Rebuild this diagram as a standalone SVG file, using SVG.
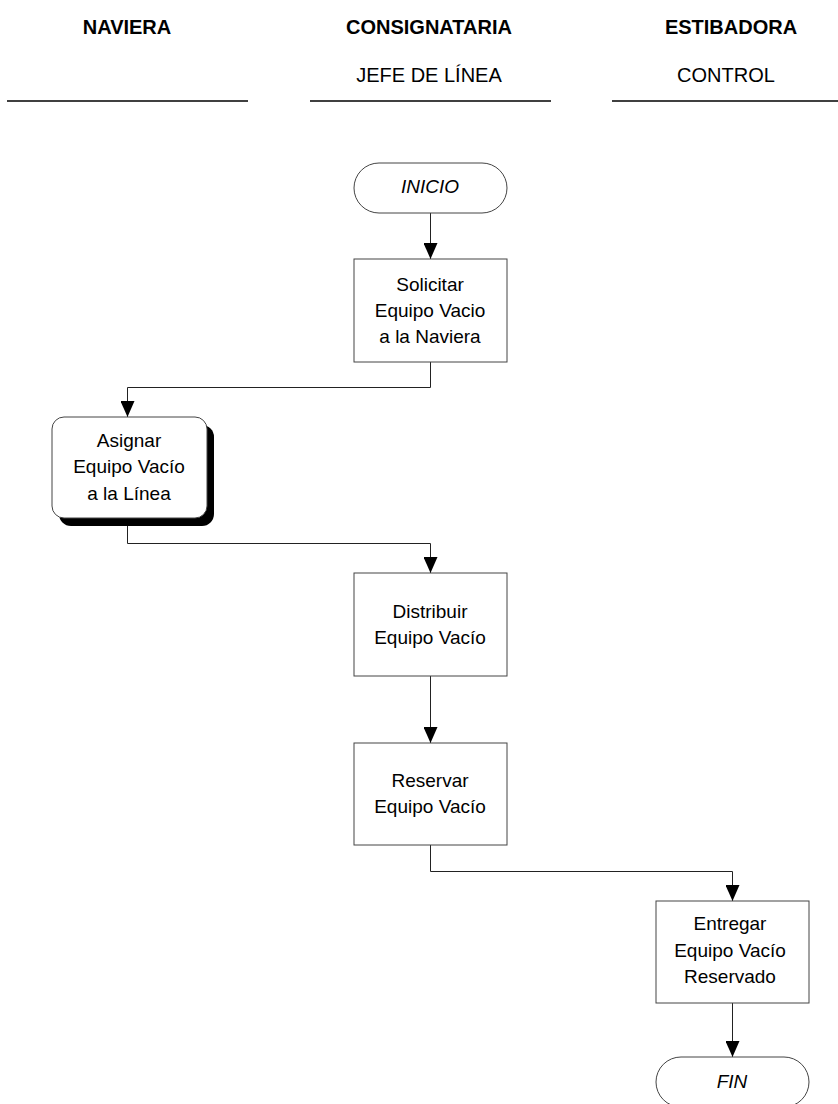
<svg xmlns="http://www.w3.org/2000/svg" width="838" height="1104" viewBox="0 0 838 1104">
  <style>
    .hdr { font-family: "Liberation Sans", Arial, sans-serif; font-size: 20px; fill: #000; text-anchor: middle; }
    .bold { font-weight: bold; }
    .lane { stroke: #000; stroke-width: 1.5; }
    .box { fill: #fff; stroke: #444; stroke-width: 1; }
    .lbl { font-family: "Liberation Sans", Arial, sans-serif; font-size: 19px; fill: #000; text-anchor: middle; }
    .it { font-style: italic; }
    .conn { fill: none; stroke: #222; stroke-width: 1; }
  </style>
  <defs>
    <marker id="arrow" markerUnits="userSpaceOnUse" markerWidth="16" markerHeight="14" viewBox="0 0 16 14" refX="16" refY="7" orient="auto">
      <path d="M0,0 L16,7 L0,14 z" fill="#000"/>
    </marker>
  </defs>
  <rect width="838" height="1104" fill="#fff"/>

  <!-- swimlane headers -->
  <g id="lanes">
    <text class="hdr bold" x="127" y="34">NAVIERA</text>
    <text class="hdr bold" x="429" y="34">CONSIGNATARIA</text>
    <text class="hdr bold" x="731" y="34">ESTIBADORA</text>
    <text class="hdr" x="429" y="82">JEFE DE LÍNEA</text>
    <text class="hdr" x="726" y="82">CONTROL</text>
    <line class="lane" x1="7" y1="101" x2="248" y2="101"/>
    <line class="lane" x1="310" y1="101" x2="551" y2="101"/>
    <line class="lane" x1="612" y1="101" x2="838" y2="101"/>
  </g>

  <!-- connectors -->
  <g id="connectors">
    <path class="conn" d="M430.5,213 V259" marker-end="url(#arrow)"/>
    <path class="conn" d="M430.5,362 V387.5 H127.5 V417" marker-end="url(#arrow)"/>
    <path class="conn" d="M127.5,526 V543.5 H430.5 V573" marker-end="url(#arrow)"/>
    <path class="conn" d="M430.5,676 V743" marker-end="url(#arrow)"/>
    <path class="conn" d="M430.5,845 V871.5 H732.5 V901" marker-end="url(#arrow)"/>
    <path class="conn" d="M732.5,1003 V1057" marker-end="url(#arrow)"/>
  </g>

  <g id="inicio">
    <rect class="box" x="354" y="163" width="153" height="50" rx="25" ry="25"/>
    <text class="lbl it" x="430" y="193">INICIO</text>
  </g>

  <g id="solicitar">
    <rect class="box" x="354" y="259" width="153" height="103"/>
    <text class="lbl" x="430" y="291">Solicitar</text>
    <text class="lbl" x="430" y="317">Equipo Vacio</text>
    <text class="lbl" x="430" y="343">a la Naviera</text>
  </g>

  <g id="asignar">
    <rect x="59" y="425" width="155" height="101" rx="12" ry="12" fill="#000"/>
    <rect class="box" x="52" y="417" width="155" height="101" rx="12" ry="12"/>
    <text class="lbl" x="129" y="447">Asignar</text>
    <text class="lbl" x="129" y="473">Equipo Vacío</text>
    <text class="lbl" x="129" y="500">a la Línea</text>
  </g>

  <g id="distribuir">
    <rect class="box" x="354" y="573" width="153" height="103"/>
    <text class="lbl" x="430" y="618">Distribuir</text>
    <text class="lbl" x="430" y="644">Equipo Vacío</text>
  </g>

  <g id="reservar">
    <rect class="box" x="354" y="743" width="153" height="102"/>
    <text class="lbl" x="430" y="787">Reservar</text>
    <text class="lbl" x="430" y="813">Equipo Vacío</text>
  </g>

  <g id="entregar">
    <rect class="box" x="656" y="901" width="153" height="102"/>
    <text class="lbl" x="730" y="930">Entregar</text>
    <text class="lbl" x="730" y="957">Equipo Vacío</text>
    <text class="lbl" x="730" y="983">Reservado</text>
  </g>

  <g id="fin">
    <rect class="box" x="656" y="1057" width="153" height="50" rx="25" ry="25"/>
    <text class="lbl it" x="732" y="1088">FIN</text>
  </g>
</svg>
